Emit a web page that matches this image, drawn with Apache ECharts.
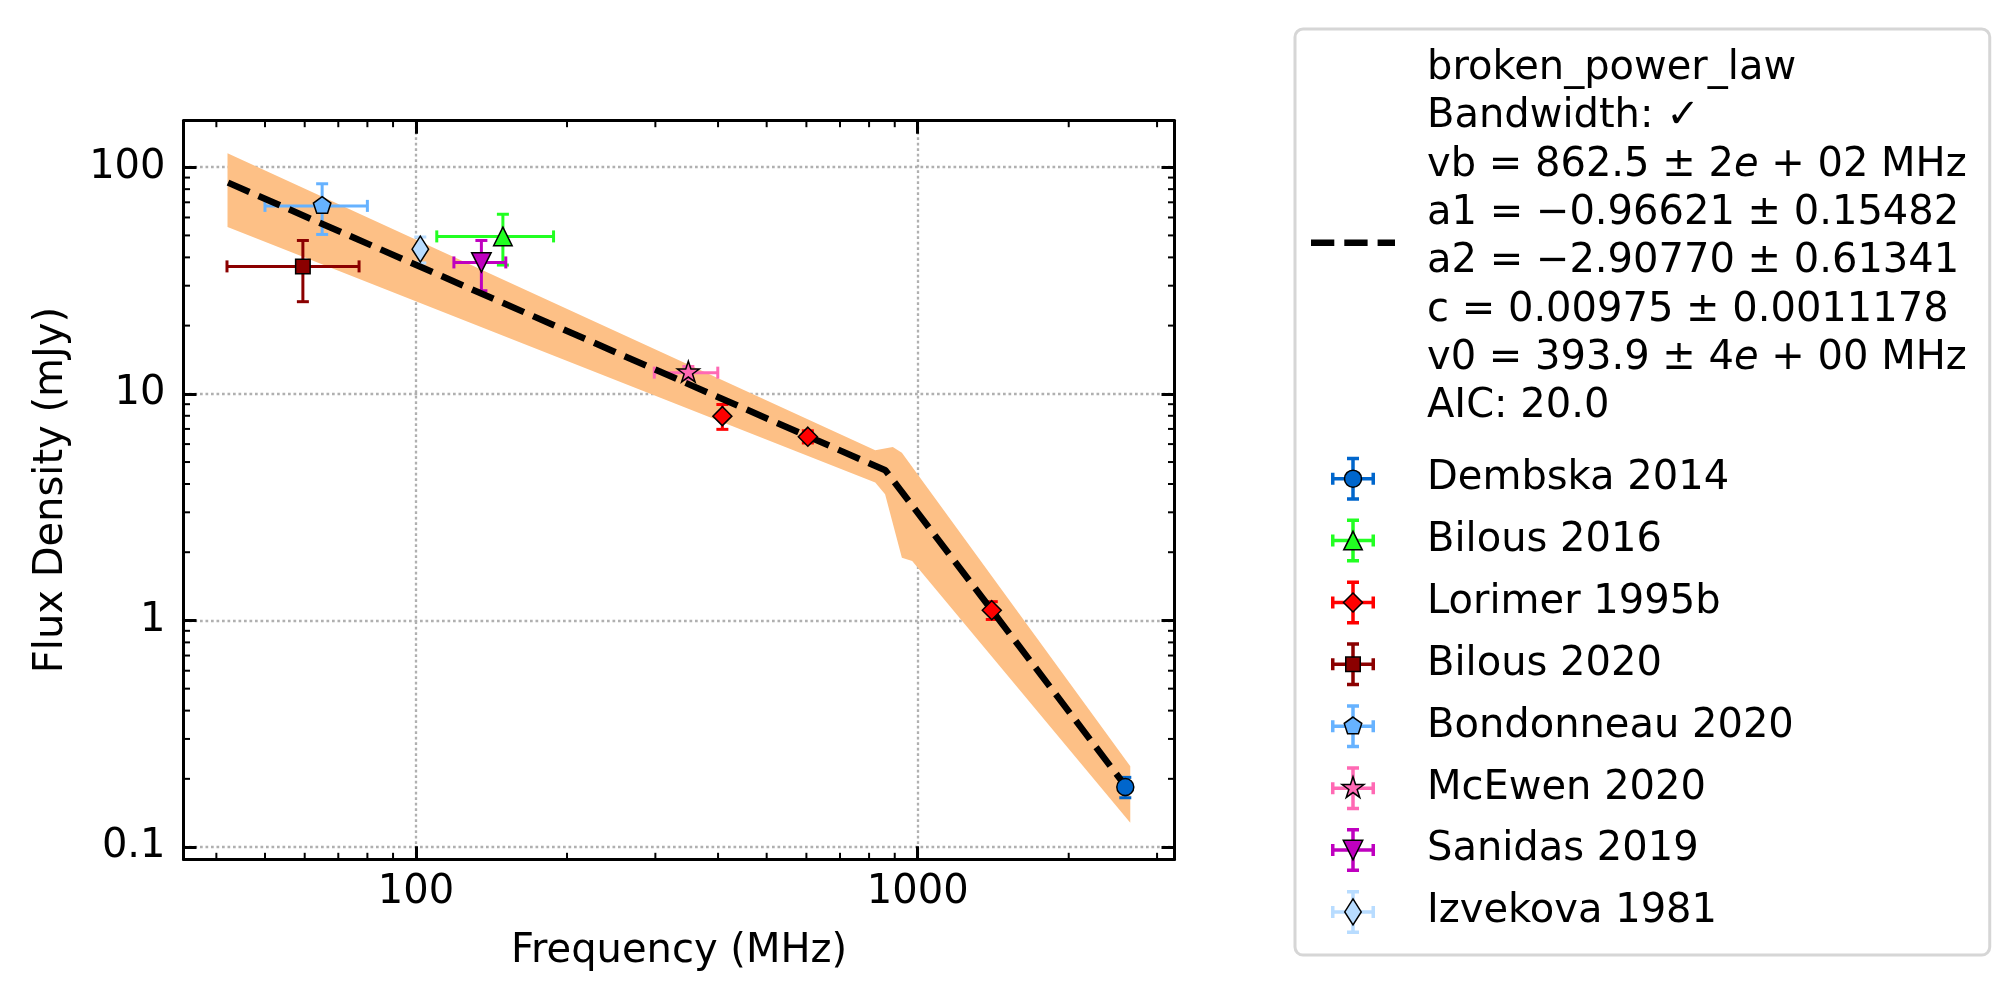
<!DOCTYPE html>
<html>
<head>
<meta charset="utf-8">
<title>broken_power_law</title>
<script src="https://cdn.jsdelivr.net/npm/echarts@6/dist/echarts.min.js"></script>
<style>
  html, body { margin: 0; padding: 0; background: #fff; }
  #chart { width: 2016px; height: 1004px; }
</style>
</head>
<body>
<div id="chart"></div>
<script>
var sourceNames = ['Dembska 2014', 'Bilous 2016', 'Lorimer 1995b', 'Bilous 2020',
                   'Bondonneau 2020', 'McEwen 2020', 'Sanidas 2019', 'Izvekova 1981'];
var freqMHz = [[2593], [149], [408, 604, 1405], [59.5], [65], [349], [135], [102]];
var fluxMJy = [[0.184], [49.5], [7.97, 6.47, 1.11], [36.5], [67.5], [12.4], [38], [43.5]];
var freqErr = [[0], [39], [0, 0, 0], [17.5], [15], [50.5], [16], [0]];
var fluxErr = [[0.019], [12.5], [1.0, 0.4, 0.1], [11], [17], [0.8], [9.5], [5.7]];

// fitted model (dashed line) and its uncertainty band
var fitName = 'broken_power_law';
var fitFreq = [42.2, 862, 2650];
var fitFlux = [85.5, 4.6, 0.175];
var bandUpperFreq = [42.1, 823, 892, 930, 2653];
var bandUpper = [115.3, 5.64, 5.82, 5.50, 0.227];
var bandLowerFreq = [42.1, 823, 861, 930, 975, 2653];
var bandLower = [54.4, 4.06, 3.60, 1.89, 1.83, 0.128];

var fitLines = [
    fitName,
    'Bandwidth: \u2713',
    'vb = 862.5 \u00b1 2{i|e} + 02 MHz',
    'a1 = \u22120.96621 \u00b1 0.15482',
    'a2 = \u22122.90770 \u00b1 0.61341',
    'c = 0.00975 \u00b1 0.0011178',
    'v0 = 393.9 \u00b1 4{i|e} + 00 MHz',
    'AIC: 20.0'
];

// axis ranges and minor tick values
var xMin = 34.4, xMax = 3250;
var yMin = 0.0883, yMax = 160.4;
var xMinorTicks = [40, 50, 60, 70, 80, 90, 200, 300, 400, 500, 600, 700, 800, 900, 2000, 3000];
var yMinorTicks = [0.2, 0.3, 0.4, 0.5, 0.6, 0.7, 0.8, 0.9, 2, 3, 4, 5, 6, 7, 8, 9,
                   20, 30, 40, 50, 60, 70, 80, 90];

(function () {
    var FONT = 'DejaVu Sans';
    var chart = echarts.init(document.getElementById('chart'));

    // marker looks, same order as sourceNames (28x28 boxes so sizes stay real)
    var PAD = 'M0 0M28 28';
    var sourceColors = ['#0066cc', '#22ff22', '#ff0000', '#8b0000',
                        '#66b2ff', '#ff69b4', '#bf00bf', '#b8dcff'];
    var sourceSymbols = [
        'path://' + PAD + 'M22.5 14A8.5 8.5 0 1 1 5.5 14A8.5 8.5 0 1 1 22.5 14Z',
        'path://' + PAD + 'M14 4.75L23.25 23.25L4.75 23.25Z',
        'path://' + PAD + 'M14 4.5L23.5 14L14 23.5L4.5 14Z',
        'path://' + PAD + 'M6.75 6.75H21.25V21.25H6.75Z',
        'path://' + PAD + 'M14 4.8L22.75 11.16L19.41 21.44L8.59 21.44L5.25 11.16Z',
        'path://' + PAD + 'M14 2.5L16.58 10.45L24.94 10.45L18.18 15.36L20.76 23.3L14 18.39L7.24 23.3L9.82 15.36L3.06 10.45L11.42 10.45Z',
        'path://' + PAD + 'M4.25 4.25H23.75L14 23.75Z',
        'path://' + PAD + 'M14 1L22.25 14L14 27L5.75 14Z'
    ];
    var crossIcon = 'path://M0 20.25H44V23.75H0Z M20.25 0H23.75V44H20.25Z M0 16H3.5V28H0Z ' +
        'M40.5 16H44V28H40.5Z M16 0H28V3.5H16Z M16 40.5H28V44H16Z';
    var dashIcon = 'path://M0 0M84 44M0 18.75H23.3V25.25H0Z M33.3 18.75H56.6V25.25H33.3Z M66.6 18.75H84V25.25H66.6Z';

    function decadeLabel(v) {
        var e = Math.log10(v);
        if (Math.abs(e - Math.round(e)) > 1e-6) return '';
        e = Math.round(e);
        return e >= 0 ? String(Math.pow(10, e)) : Math.pow(10, e).toFixed(-e);
    }

    var labelFont = { color: '#000', fontSize: 40, fontFamily: FONT };
    var lineBlack = { color: '#000', width: 3 };
    var gridDots = { color: '#b0b0b0', width: 2.3, type: [2.7, 2.8] };

    function logAxis(pos, min, max, main) {
        return {
            type: 'log', logBase: 10, min: min, max: max, position: pos,
            axisLine: { show: true, lineStyle: lineBlack },
            axisTick: { show: true, inside: true, length: 13, lineStyle: lineBlack },
            axisLabel: main ? {
                show: true, margin: pos === 'bottom' ? 13 : 18, formatter: decadeLabel,
                showMinLabel: false, showMaxLabel: false,
                color: '#000', fontSize: 40, fontFamily: FONT
            } : { show: false },
            splitLine: { show: main, showMinLine: false, showMaxLine: false, lineStyle: gridDots },
            minorTick: { show: false },
            minorSplitLine: { show: false }
        };
    }

    var xBottom = logAxis('bottom', xMin, xMax, true);
    xBottom.name = 'Frequency (MHz)';
    xBottom.nameLocation = 'middle';
    xBottom.nameGap = 72;
    xBottom.nameTextStyle = labelFont;
    var yLeft = logAxis('left', yMin, yMax, true);
    yLeft.name = 'Flux Density (mJy)';
    yLeft.nameLocation = 'middle';
    yLeft.nameGap = 112;
    yLeft.nameTextStyle = labelFont;

    var series = [];

    // uncertainty band of the fit
    series.push({
        type: 'custom', name: 'fit band', silent: true, z: 1,
        data: [[bandUpperFreq[0], bandUpper[0]]],
        renderItem: function (params, api) {
            var pts = [];
            for (var i = 0; i < bandUpperFreq.length; i++) {
                pts.push(api.coord([bandUpperFreq[i], bandUpper[i]]));
            }
            for (var j = bandLowerFreq.length - 1; j >= 0; j--) {
                pts.push(api.coord([bandLowerFreq[j], bandLower[j]]));
            }
            return { type: 'polygon', shape: { points: pts }, style: { fill: '#fdc086' } };
        }
    });

    // fitted broken power law
    series.push({
        type: 'line', name: fitName, silent: true, z: 3, symbol: 'none',
        data: fitFreq.map(function (f, i) { return [f, fitFlux[i]]; }),
        lineStyle: { color: '#000', width: 6.5, type: [23.3, 10], cap: 'butt' },
        itemStyle: { color: '#000' }
    });

    // error bars + markers for each reference
    sourceNames.forEach(function (name, k) {
        var color = sourceColors[k];
        var rows = freqMHz[k].map(function (f, i) {
            return [f, fluxMJy[k][i], freqErr[k][i], fluxErr[k][i]];
        });
        series.push({
            type: 'custom', name: name + ' err', silent: true, z: 2,
            dimensions: ['f', 's', 'df', 'ds'], encode: { x: 0, y: 1 },
            data: rows,
            renderItem: function (params, api) {
                var f = api.value(0), s = api.value(1), df = api.value(2), ds = api.value(3);
                var st = { stroke: color, lineWidth: 3 };
                var kids = [];
                function seg(x1, y1, x2, y2) {
                    kids.push({ type: 'line', shape: { x1: x1, y1: y1, x2: x2, y2: y2 }, style: st });
                }
                if (df > 0) {
                    var a = api.coord([f - df, s]), b = api.coord([f + df, s]);
                    seg(a[0], a[1], b[0], b[1]);
                    seg(a[0], a[1] - 6, a[0], a[1] + 6);
                    seg(b[0], b[1] - 6, b[0], b[1] + 6);
                }
                if (ds > 0) {
                    var c = api.coord([f, s - ds]), d = api.coord([f, s + ds]);
                    seg(c[0], c[1], d[0], d[1]);
                    seg(c[0] - 6, c[1], c[0] + 6, c[1]);
                    seg(d[0] - 6, d[1], d[0] + 6, d[1]);
                }
                return { type: 'group', children: kids };
            }
        });
        series.push({
            type: 'scatter', name: name, silent: true, z: 4,
            symbol: sourceSymbols[k], symbolSize: 28,
            data: rows.map(function (r) { return [r[0], r[1]]; }),
            itemStyle: { color: color, borderColor: '#000', borderWidth: 1.5, opacity: 1 }
        });
    });

    // minor ticks (inside, all four sides)
    function tickLine(x1, y1, x2, y2) {
        return { type: 'line', shape: { x1: x1, y1: y1, x2: x2, y2: y2 },
                 style: { stroke: '#000', lineWidth: 2 } };
    }
    series.push({
        type: 'custom', name: 'x minor', silent: true, z: 5,
        data: xMinorTicks.map(function (v) { return [v, 1]; }),
        renderItem: function (params, api) {
            var x = api.coord([api.value(0), 1])[0];
            var cs = params.coordSys;
            return { type: 'group', children: [
                tickLine(x, cs.y + cs.height, x, cs.y + cs.height - 6.5),
                tickLine(x, cs.y, x, cs.y + 6.5)
            ] };
        }
    });
    series.push({
        type: 'custom', name: 'y minor', silent: true, z: 5,
        data: yMinorTicks.map(function (v) { return [100, v]; }),
        renderItem: function (params, api) {
            var y = api.coord([100, api.value(1)])[1];
            var cs = params.coordSys;
            return { type: 'group', children: [
                tickLine(cs.x, y, cs.x + 6.5, y),
                tickLine(cs.x + cs.width, y, cs.x + cs.width - 6.5, y)
            ] };
        }
    });

    function legendLabel(name) {
        // trailing thin line gives the fit entry a bit more room below
        return name === fitName ? fitLines.join('\n') + '\n{gap| }' : name;
    }
    function legendText(color) {
        return {
            color: color, fontSize: 40, fontFamily: FONT, lineHeight: 48.3,
            padding: [0, 0, 0, 27],
            rich: {
                i: { color: color, fontSize: 40, fontFamily: FONT, fontStyle: 'italic', lineHeight: 48.3 },
                gap: { color: color, fontSize: 1, lineHeight: 10 }
            }
        };
    }
    var legendBase = {
        orient: 'vertical', left: 1295, top: 29,
        padding: [15.5, 23, 19, 16], itemGap: 13.6, itemWidth: 84,
        selectedMode: false, symbolKeepAspect: true, formatter: legendLabel
    };

    var option = {
        backgroundColor: '#fff',
        animation: false,
        grid: { left: 183.5, right: 841.5, top: 120.7, bottom: 144.7, containLabel: false, outerBoundsMode: 'none' },
        xAxis: [xBottom, logAxis('top', xMin, xMax, false)],
        yAxis: [yLeft, logAxis('right', yMin, yMax, false)],
        legend: [
            Object.assign({}, legendBase, {
                id: 'legendBars', z: 4, itemHeight: 44,
                backgroundColor: '#fff', borderColor: '#d6d6d6', borderWidth: 3, borderRadius: 8,
                itemStyle: { borderWidth: 0 },
                textStyle: legendText('#000'),
                data: [{ name: fitName, icon: dashIcon }].concat(sourceNames.map(function (n) {
                    return { name: n, icon: crossIcon };
                }))
            }),
            Object.assign({}, legendBase, {
                id: 'legendMarks', z: 5, itemHeight: 28,
                itemStyle: { borderColor: '#000', borderWidth: 1.5 },
                textStyle: legendText('rgba(0,0,0,0)'),
                data: [{ name: fitName, icon: 'none' }].concat(sourceNames.map(function (n, k) {
                    return { name: n, icon: sourceSymbols[k] };
                }))
            })
        ],
        series: series
    };

    chart.setOption(option);
    window.addEventListener('resize', function () {
        chart.resize();
    });
})();
</script>
</body>
</html>
